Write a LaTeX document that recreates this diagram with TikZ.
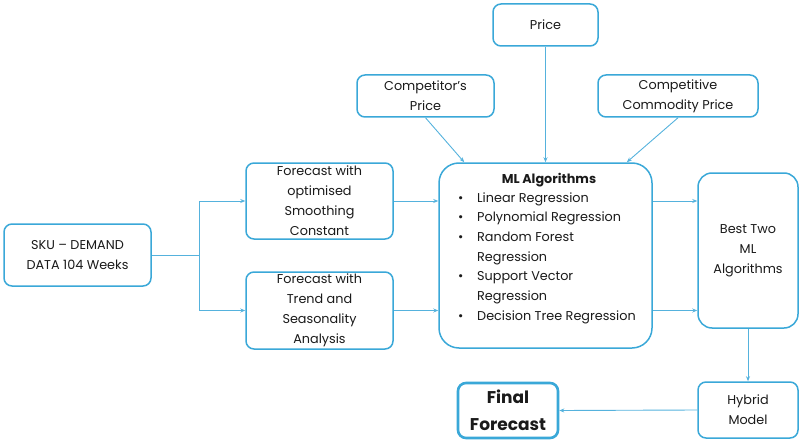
\documentclass[tikz,border=0pt]{standalone}
\usepackage{fontspec}
\setmainfont{Poppins}
\usetikzlibrary{arrows.meta,calc}
\definecolor{bord}{HTML}{3AA8D8}
\definecolor{arrc}{HTML}{55B2DD}
\definecolor{txt}{HTML}{1A1A1A}
\tikzset{
  box/.style={draw=bord,line width=1.5pt,rounded corners=8pt,fill=white,align=center,text=txt,inner sep=0pt,
    font=\fontsize{12.8}{20}\selectfont},
  arr/.style={draw=arrc,line width=0.9pt,-{Stealth[length=5pt,width=4pt]}},
  ln/.style={draw=arrc,line width=0.9pt}
}
\begin{document}
\begin{tikzpicture}[x=1pt,y=-1pt]
\useasboundingbox (0,0) rectangle (800,441);
\node[box,minimum width=147pt,minimum height=62pt] (sku) at (77.5,255) {SKU -- DEMAND\\DATA 104 Weeks};
\node[box,minimum width=147pt,minimum height=76pt] (f1) at (319.5,201) {Forecast with\\optimised\\Smoothing\\Constant};
\node[box,minimum width=147pt,minimum height=77pt] (f2) at (319.5,310.5) {Forecast with\\Trend and\\Seasonality\\Analysis};
\node[box,minimum width=105pt,minimum height=42pt] (price) at (545.5,25) {Price};
\node[box,minimum width=137pt,minimum height=42pt] (comp) at (425.5,96) {Competitor's\\Price};
\node[box,minimum width=160pt,minimum height=42pt] (comm) at (678,96) {Competitive\\Commodity Price};
\node[box,rounded corners=20pt,minimum width=213pt,minimum height=185pt] (ml) at (545.5,255.5) {};
\node[text=txt,anchor=north west,inner sep=0pt,font=\fontsize{12.8}{19.7}\selectfont] (mltext) at (458,169.5) {%
\begin{tabular}{@{}p{19pt}@{}l@{}}
\multicolumn{2}{@{}c@{}}{\hspace{4pt}\textbf{ML Algorithms}}\\[-1pt]
\textbullet & Linear Regression\\
\textbullet & Polynomial Regression\\
\textbullet & Random Forest\\
 & Regression\\
\textbullet & Support Vector\\
 & Regression\\
\textbullet & Decision Tree Regression
\end{tabular}};
\node[box,rounded corners=14pt,minimum width=100pt,minimum height=155pt] (best) at (748,250.5) {Best Two\\ML\\Algorithms};
\node[box,minimum width=100pt,minimum height=56pt] (hyb) at (748,410) {Hybrid\\Model};
\node[box,line width=2.6pt,minimum width=100pt,minimum height=55pt,font=\fontsize{17}{27}\selectfont\bfseries] (fin) at (508,410.5) {Final\\Forecast};
\coordinate (split) at (199,255);
\draw[ln] (sku.east) -- (split);
\draw[arr] (split) |- (f1.west);
\draw[arr] (split) |- (f2.west);
\draw[arr] (f1.east) -- (ml.west |- f1.east);
\draw[arr] (f2.east) -- (ml.west |- f2.east);
\draw[arr] (price.south) -- (ml.north);
\draw[arr] (comp.south) -- ($(ml.north west)+(26,0)$);
\draw[arr] (comm.south) -- ($(ml.north east)+(-26,0)$);
\draw[arr] (ml.east |- f1.east) -- (best.west |- f1.east);
\draw[arr] (ml.east |- f2.east) -- (best.west |- f2.east);
\draw[arr] (best.south) -- (hyb.north);
\draw[arr] (hyb.west) -- (fin.east);
\end{tikzpicture}
\end{document}
